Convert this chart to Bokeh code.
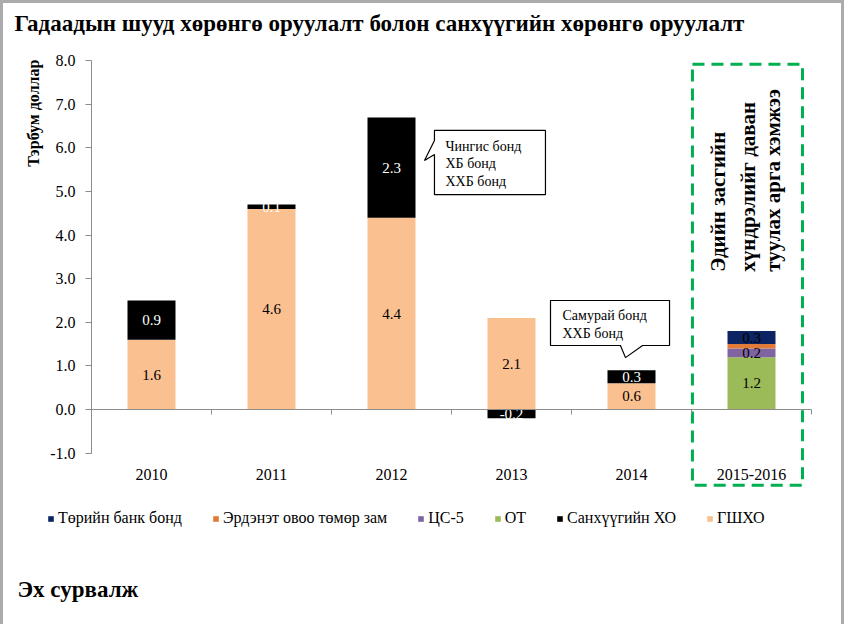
import numpy as np
from math import pi
from bokeh.plotting import figure
from bokeh.models import (Range1d, LinearAxis, FixedTicker, Label, Legend, LegendItem,
                          ColumnDataSource, PrintfTickFormatter)
from bokeh.core.properties import value
from bokeh.embed import file_html
from bokeh.resources import INLINE

# ---------------- data ----------------
categories = ["2010", "2011", "2012", "2013", "2014", "2015-2016"]
gshkho = [1.6, 4.6, 4.4, 2.1, 0.6, 0.0]          # ГШХО
sankhuu_kho = [0.9, 0.1, 2.3, -0.2, 0.3, 0.0]    # Санхүүгийн ХО
ot = [0.0, 0.0, 0.0, 0.0, 0.0, 1.2]              # ОТ
ts5 = [0.0, 0.0, 0.0, 0.0, 0.0, 0.2]             # ЦС-5
erdenet = [0.0, 0.0, 0.0, 0.0, 0.0, 0.1]         # Эрдэнэт овоо төмөр зам
turiin_bank = [0.0, 0.0, 0.0, 0.0, 0.0, 0.3]     # Төрийн банк бонд

series_names = ["ГШХО", "Санхүүгийн ХО", "ОТ", "ЦС-5", "Эрдэнэт овоо төмөр зам", "Төрийн банк бонд"]
series_values = [gshkho, sankhuu_kho, ot, ts5, erdenet, turiin_bank]
series_colors = ["#FAC090", "#000000", "#9BBB59", "#8064A2", "#E07B39", "#0C2461"]
label_colors = ["black", "white", "black", "black", None, "black"]
legend_order = ["Төрийн банк бонд", "Эрдэнэт овоо төмөр зам", "ЦС-5", "ОТ", "Санхүүгийн ХО", "ГШХО"]

y_ticks = [-1, 0, 1, 2, 3, 4, 5, 6, 7, 8]
title_text = "Гадаадын шууд хөрөнгө оруулалт болон санхүүгийн хөрөнгө оруулалт"
y_title = "Тэрбум доллар"
source_text = "Эх сурвалж"
callout1_lines = ["Чингис бонд", "ХБ бонд", "ХХБ бонд"]
callout2_lines = ["Самурай бонд", "ХХБ бонд"]
box_lines = ["Эдийн засгийн", "хүндрэлийг даван", "туулах арга хэмжээ"]

SERIF = "Liberation Serif"
n = len(categories)

# canvas geometry (page px): canvas spans x 11..849, y 11..632
FW, FH = 838, 621
X0_PAGE, PX_PER_CAT = 99, 120.0       # page x of the y axis, px per category
Y0_PAGE, PX_PER_UNIT = 417, 43.6      # page y of value 0, px per unit
CANVAS_L, CANVAS_T = 11, 11
x_start = (CANVAS_L - X0_PAGE) / PX_PER_CAT
x_end = (CANVAS_L + FW - X0_PAGE) / PX_PER_CAT
y_end = (Y0_PAGE - CANVAS_T) / PX_PER_UNIT
y_start = (Y0_PAGE - (CANVAS_T + FH)) / PX_PER_UNIT

p = figure(frame_width=FW, frame_height=FH,
           x_range=Range1d(x_start, x_end), y_range=Range1d(y_start, y_end),
           x_axis_type=None, y_axis_type=None,
           output_backend="svg", toolbar_location=None, min_border=0)
p.outline_line_color = None
p.background_fill_color = "white"
p.border_fill_color = "white"
p.styles = {"border-top": "3px solid #ABABAB", "border-left": "3px solid #ABABAB",
            "border-right": "3px solid #ABABAB"}

# ---------------- stacked bars ----------------
xc = np.arange(n) + 0.5
pos = np.zeros(n)
neg = np.zeros(n)
renderers = {}
lab_x, lab_y, lab_t, lab_c = [], [], [], []
for name, vals, color, lcol in zip(series_names, series_values, series_colors, label_colors):
    v = np.array(vals, dtype=float)
    bottom = np.where(v >= 0, pos, neg)
    top = bottom + v
    pos = np.where(v >= 0, top, pos)
    neg = np.where(v < 0, top, neg)
    m = v != 0
    src = ColumnDataSource(dict(x=xc[m], bottom=bottom[m], top=top[m]))
    renderers[name] = p.vbar(x="x", bottom="bottom", top="top", width=0.4, source=src,
                             fill_color=color, line_color=None)
    if lcol is not None:
        for xi, b, t, vi in zip(xc[m], bottom[m], top[m], v[m]):
            lab_x.append(xi)
            lab_y.append((b + t) / 2)
            lab_t.append(f"{vi:.1f}")
            lab_c.append(lcol)

lsrc = ColumnDataSource(dict(x=lab_x, y=lab_y, t=lab_t, c=lab_c))
p.text(x="x", y="y", text="t", text_color="c", source=lsrc, text_align="center",
       text_baseline="middle", text_font=value(SERIF), text_font_size="15px")

# ---------------- axes ----------------
yaxis = LinearAxis(fixed_location=0, ticker=FixedTicker(ticks=y_ticks),
                   formatter=PrintfTickFormatter(format="%.1f"),
                   bounds=(min(y_ticks), max(y_ticks)),
                   axis_line_color="#8C8C8C", major_tick_line_color="#8C8C8C",
                   major_tick_in=0, major_tick_out=6, minor_tick_line_color=None,
                   major_label_text_font=SERIF, major_label_text_font_size="16px",
                   major_label_text_color="black", major_label_standoff=10)
p.add_layout(yaxis, "left")

zero_axis = LinearAxis(fixed_location=0, ticker=FixedTicker(ticks=list(range(n + 1))),
                       bounds=(0, n), axis_line_color="#8C8C8C", major_tick_line_color="#8C8C8C",
                       major_tick_in=0, major_tick_out=5, minor_tick_line_color=None,
                       major_label_text_color=None)
p.add_layout(zero_axis, "below")

cat_axis = LinearAxis(fixed_location=-1, ticker=FixedTicker(ticks=list(xc)),
                      major_label_overrides={float(x): c for x, c in zip(xc, categories)},
                      axis_line_color=None, major_tick_line_color=None, minor_tick_line_color=None,
                      major_label_text_font=SERIF, major_label_text_font_size="16px",
                      major_label_text_color="black", major_label_standoff=10)
p.add_layout(cat_axis, "below")

# ---------------- callouts ----------------
c1x = [2.858, 3.783, 3.783, 2.858, 2.858, 2.775, 2.858]
c1y = [6.40, 6.40, 4.93, 4.93, 5.85, 5.71, 6.17]
p.patch(c1x, c1y, fill_color="white", line_color="black", line_width=1.2)
p.text(x=[2.95] * 3, y=[6.03, 5.64, 5.23], text=callout1_lines, text_align="left",
       text_baseline="middle", text_font=value(SERIF), text_font_size="14px", text_color="black")

c2x = [3.825, 4.817, 4.817, 4.592, 4.45, 4.408, 3.825]
c2y = [2.50, 2.50, 1.468, 1.468, 1.19, 1.468, 1.468]
p.patch(c2x, c2y, fill_color="white", line_color="black", line_width=1.2)
p.text(x=[3.925] * 2, y=[2.156, 1.743], text=callout2_lines, text_align="left",
       text_baseline="middle", text_font=value(SERIF), text_font_size="14px", text_color="black")

# ---------------- green dashed box ----------------
p.quad(left=[5.008], right=[5.925], bottom=[-1.74], top=[7.92], fill_color=None,
       line_color="#00B050", line_width=3, line_dash="12 7")
p.text(x=[5.217, 5.467, 5.683], y=[3.16] * 3, text=box_lines, angle=pi / 2,
       text_align="left", text_baseline="middle", text_font=value(SERIF),
       text_font_style="bold", text_font_size="21px", text_color="black")

# ---------------- titles (screen px relative to canvas bottom-left) ----------------
def sx(page_x):
    return page_x - CANVAS_L

def sy(page_y):
    return CANVAS_T + FH - page_y

p.add_layout(Label(x=sx(22), y=sy(31), x_units="screen", y_units="screen", text=title_text,
                   text_font=SERIF, text_font_style="bold", text_font_size="23px",
                   text_baseline="middle", text_color="black"))
p.add_layout(Label(x=sx(41), y=sy(67), x_units="screen", y_units="screen", text=y_title,
                   angle=pi / 2, text_align="right", text_baseline="middle", text_font=SERIF,
                   text_font_style="bold", text_font_size="16px", text_color="black"))
p.add_layout(Label(x=sx(25), y=sy(597), x_units="screen", y_units="screen", text=source_text,
                   text_font=SERIF, text_font_style="bold", text_font_size="23px",
                   text_baseline="middle", text_color="black"))

# ---------------- legend ----------------
legend = Legend(items=[LegendItem(label=nm, renderers=[renderers[nm]]) for nm in legend_order],
                orientation="horizontal", location=(sx(55), sy(535)), padding=0, margin=0,
                spacing=30, glyph_width=7, glyph_height=7, label_standoff=4, label_height=18,
                label_text_font=SERIF, label_text_font_size="16px", label_text_color="black",
                border_line_color=None, background_fill_alpha=0)
p.add_layout(legend, "center")

open("out.html", "w").write(file_html(p, INLINE))
